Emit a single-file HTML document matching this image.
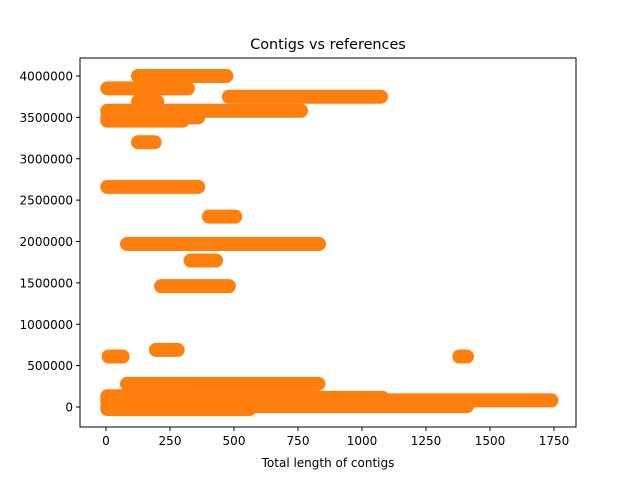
<!DOCTYPE html>
<html><head><meta charset="utf-8"><style>
body{margin:0;background:#fff;}
svg{display:block;font-family:"DejaVu Sans","Liberation Sans",sans-serif;}
</style></head><body>
<svg id="chart" width="640" height="480" viewBox="0 0 640 480">
<rect width="640" height="480" fill="#fff"/>
<text x="328" y="49" font-size="14.4" text-anchor="middle">Contigs vs references</text>
<text x="328" y="467" font-size="12" text-anchor="middle">Total length of contigs</text>
<text transform="translate(-4,285) rotate(-90)" font-size="12" text-anchor="middle">References</text>
<g id="marks"></g>
<g id="axes"></g>
</svg>
<script>
const segStart = [125, 5, 480, 125, 5, 5, 5, 125, 5, 402, 82, 330, 215, 195, 10, 1380, 82, 5, 5, 5, 5, 5];
const segEnd   = [470, 320, 1074, 200, 762, 360, 300, 190, 360, 505, 832, 430, 480, 280, 65, 1410, 830, 300, 1080, 1740, 1410, 560];
const segRef   = [4000000, 3850000, 3750000, 3690000, 3580000, 3500000, 3460000, 3200000, 2660000, 2300000, 1970000, 1770000, 1460000, 690000, 610000, 610000, 280000, 130000, 110000, 80000, 10000, -25000];
const xTicks = [0, 250, 500, 750, 1000, 1250, 1500, 1750];
const yTicks = [0, 500000, 1000000, 1500000, 2000000, 2500000, 3000000, 3500000, 4000000];

const L=80,R=576,T=58,B=427;
const sx = v => 106 + v*0.256;
const sy = v => 407 - v*(331/4000000);
const NS="http://www.w3.org/2000/svg";
const marks=document.getElementById('marks');
for(let i=0;i<segStart.length;i++){
  const ln=document.createElementNS(NS,'line');
  ln.setAttribute('x1',sx(segStart[i]));ln.setAttribute('x2',sx(segEnd[i]));
  ln.setAttribute('y1',sy(segRef[i]));ln.setAttribute('y2',sy(segRef[i]));
  ln.setAttribute('stroke','#ff7f0e');ln.setAttribute('stroke-width','14');ln.setAttribute('stroke-linecap','round');
  
  
  marks.appendChild(ln);
}
const axes=document.getElementById('axes');
const frame=document.createElementNS(NS,'rect');
frame.setAttribute('x',L);frame.setAttribute('y',T);frame.setAttribute('width',R-L);frame.setAttribute('height',B-T);
frame.setAttribute('fill','none');frame.setAttribute('stroke','#000');frame.setAttribute('stroke-width','1');


axes.appendChild(frame);
xTicks.forEach(v=>{
  const x=sx(v);
  const t=document.createElementNS(NS,'line');
  t.setAttribute('x1',x);t.setAttribute('x2',x);t.setAttribute('y1',B);t.setAttribute('y2',B+4);t.setAttribute('stroke','#000');
  
  
  axes.appendChild(t);
  const tx=document.createElementNS(NS,'text');
  tx.setAttribute('x',x);tx.setAttribute('y',B+18);tx.setAttribute('font-size','12');tx.setAttribute('text-anchor','middle');
  tx.textContent=v;
  
  
  axes.appendChild(tx);
});
yTicks.forEach(v=>{
  const y=sy(v);
  const t=document.createElementNS(NS,'line');
  t.setAttribute('x1',L-4);t.setAttribute('x2',L);t.setAttribute('y1',y);t.setAttribute('y2',y);t.setAttribute('stroke','#000');
  
  
  axes.appendChild(t);
  const tx=document.createElementNS(NS,'text');
  tx.setAttribute('x',L-7);tx.setAttribute('y',y+4.5);tx.setAttribute('font-size','12');tx.setAttribute('text-anchor','end');
  tx.textContent=v;
  
  
  axes.appendChild(tx);
});
</script>
</body></html>
